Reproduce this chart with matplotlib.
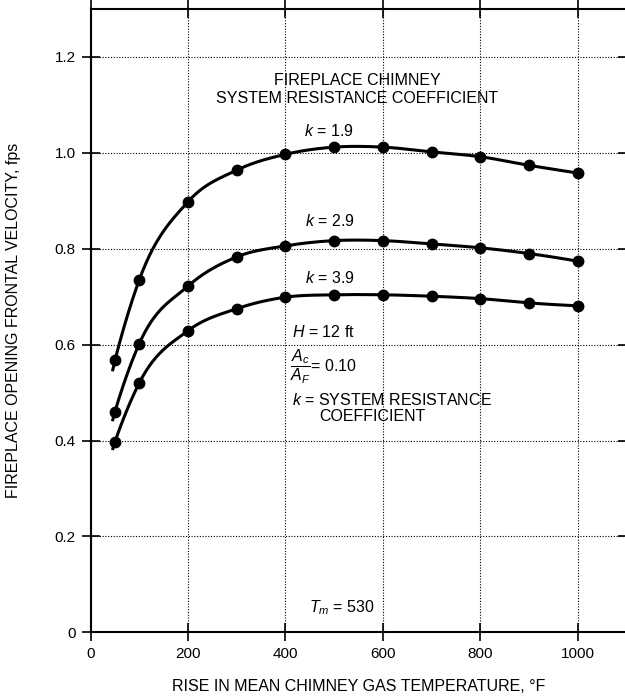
import numpy as np
import matplotlib
matplotlib.use("Agg")
import matplotlib.pyplot as plt

plt.rcParams['font.family'] = ['Liberation Sans', 'DejaVu Sans']
plt.rcParams['mathtext.fontset'] = 'custom'
plt.rcParams['mathtext.rm'] = 'Liberation Sans'
plt.rcParams['mathtext.it'] = 'Liberation Sans:italic'

# temperature rise (F)
temp_rise = [50, 100, 200, 300, 400, 500, 600, 700, 800, 900, 1000]

# frontal velocity (fps) for each resistance coefficient
vel_k19 = [0.567, 0.735, 0.898, 0.964, 0.997, 1.012, 1.012, 1.002, 0.992, 0.974, 0.958]
vel_k29 = [0.460, 0.602, 0.722, 0.783, 0.806, 0.817, 0.817, 0.810, 0.802, 0.790, 0.774]
vel_k39 = [0.397, 0.520, 0.629, 0.675, 0.699, 0.704, 0.704, 0.701, 0.696, 0.687, 0.681]

curve_labels = ['$k$ = 1.9', '$k$ = 2.9', '$k$ = 3.9']

FS = 11.5


def smooth(xs, ys, n=30, tail=5):
  # cubic hermite through the points, plus a short lead-in below the first one
  xs = np.asarray(xs, float)
  ys = np.asarray(ys, float)
  h = np.diff(xs)
  d = np.diff(ys) / h
  m = np.empty_like(ys)
  m[1:-1] = (h[1:] * d[:-1] + h[:-1] * d[1:]) / (h[:-1] + h[1:])
  m[0] = 2 * d[0] - m[1]
  m[-1] = 2 * d[-1] - m[-2]
  lead = 3 * d[0] - 2 * m[1]
  px = [xs[0] - tail]
  py = [ys[0] - lead * tail]
  for i in range(len(xs) - 1):
    t = np.linspace(0, 1, n)
    h00 = 2*t**3 - 3*t**2 + 1
    h10 = t**3 - 2*t**2 + t
    h01 = -2*t**3 + 3*t**2
    h11 = t**3 - t**2
    yy = h00*ys[i] + h10*h[i]*m[i] + h01*ys[i+1] + h11*h[i]*m[i+1]
    px.extend(xs[i] + t*h[i])
    py.extend(yy)
  return np.array(px), np.array(py)


fig = plt.figure(figsize=(6.25, 6.96), dpi=100)
ax = fig.add_axes([0.1448, 0.0915, 0.8578, 0.8955])

for vals in [vel_k19, vel_k29, vel_k39]:
  sx, sy = smooth(temp_rise, vals)
  ax.plot(sx, sy, color='black', lw=2.2, solid_capstyle='butt', zorder=3)
  ax.plot(temp_rise, vals, 'o', color='black', ms=7.5, zorder=4)

ax.set_xlim(0, 1100)
ax.set_ylim(0, 1.3)
ax.set_xticks([0, 200, 400, 600, 800, 1000])
ax.set_yticks([0, 0.2, 0.4, 0.6, 0.8, 1.0, 1.2])
ax.set_yticklabels(['0', '0.2', '0.4', '0.6', '0.8', '1.0', '1.2'])
ax.grid(True, color='black', ls=(0, (1, 1.5)), lw=0.8)
ax.tick_params(direction='inout', length=13, width=1.2, labelsize=11, colors='black',
               right=True, top=True, pad=4)
for s in ax.spines.values():
  s.set_linewidth(1.5)

ax.set_xlabel('RISE IN MEAN CHIMNEY GAS TEMPERATURE, °F', fontsize=FS, labelpad=13)
ax.set_ylabel('FIREPLACE OPENING FRONTAL VELOCITY, fps', fontsize=FS, labelpad=24)

ax.text(547, 1.150, 'FIREPLACE CHIMNEY', ha='center', va='center', fontsize=FS)
ax.text(547, 1.113, 'SYSTEM RESISTANCE COEFFICIENT', ha='center', va='center', fontsize=FS)
ax.text(490, 1.045, curve_labels[0], ha='center', va='center', fontsize=FS)
ax.text(492, 0.858, curve_labels[1], ha='center', va='center', fontsize=FS)
ax.text(492, 0.739, curve_labels[2], ha='center', va='center', fontsize=FS)
ax.text(413, 0.626, '$H$ = 12 ft', ha='left', va='center', fontsize=FS)
ax.text(410, 0.553, r'$\dfrac{A_c}{A_F}$= 0.10', ha='left', va='center', fontsize=FS)
ax.text(413, 0.484, '$k$ = SYSTEM RESISTANCE', ha='left', va='center', fontsize=FS)
ax.text(469, 0.450, 'COEFFICIENT', ha='left', va='center', fontsize=FS)
ax.text(515, 0.052, '$T_m$ = 530', ha='center', va='center', fontsize=FS)

fig.savefig('out.png', dpi=100)
